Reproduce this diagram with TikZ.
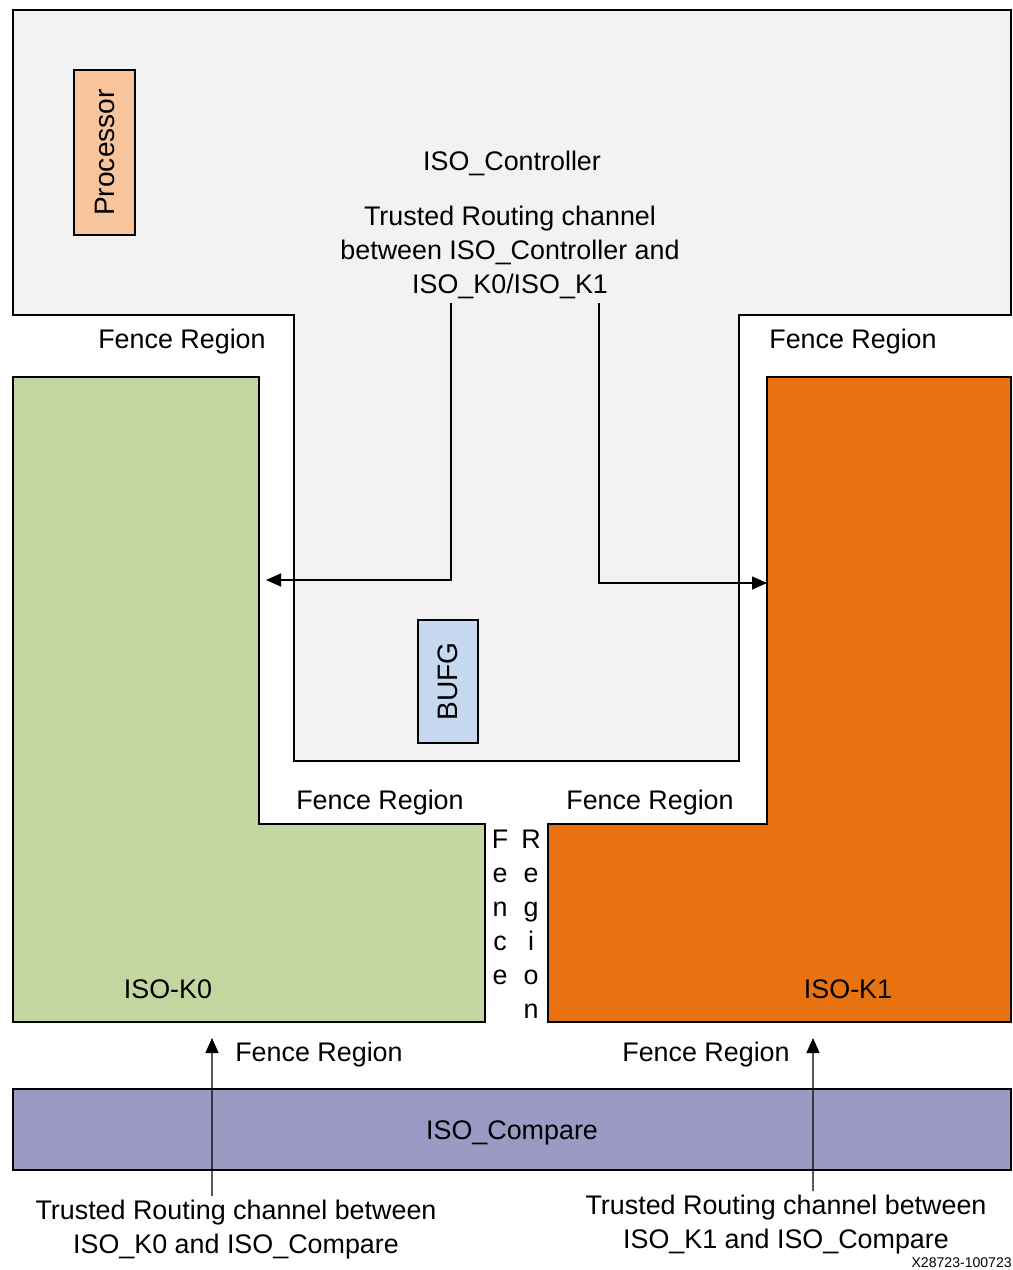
\documentclass[tikz,border=0pt]{standalone}
\usepackage{fontspec}
\setmainfont{Liberation Sans}
\usetikzlibrary{arrows.meta}

\definecolor{ctrlgray}{HTML}{F2F2F2}
\definecolor{procpeach}{HTML}{F8C49B}
\definecolor{bufgblue}{HTML}{C6D9F1}
\definecolor{kzerogreen}{HTML}{C4D6A0}
\definecolor{koneorange}{HTML}{E97210}
\definecolor{cmppurple}{HTML}{9B9AC4}

\begin{document}
\begin{tikzpicture}[x=0.02cm, y=-0.02cm,
                    font=\fontsize{15.3}{19.4}\selectfont,
                    region/.style={draw=black, line width=1.5pt},
                    block/.style={draw=black, line width=1.5pt, rotate=90, inner sep=0pt},
                    label/.style={align=center, inner sep=2pt, yshift=-0.05cm},
                    chan/.style={-{Triangle[length=3mm, width=2.6mm]}, line width=0.8pt}]

            \useasboundingbox (0,0) rectangle (1013,1270);

            % regions
            \draw[region, fill=ctrlgray] (13,10) -- (1011,10) -- (1011,315) -- (739,315) -- (739,761)
                -- (294,761) -- (294,315) -- (13,315) -- cycle;
            \draw[region, fill=kzerogreen] (13,377) -- (259,377) -- (259,824) -- (485,824)
                -- (485,1022) -- (13,1022) -- cycle;
            \draw[region, fill=koneorange] (767,377) -- (1011,377) -- (1011,1022) -- (548,1022)
                -- (548,824) -- (767,824) -- cycle;
            \draw[region, fill=cmppurple] (13,1089) rectangle (1011,1170);

            \node[block, fill=procpeach, minimum width=3.3cm, minimum height=1.22cm, font=\fontsize{16}{19}\selectfont] (proc) at (104.5,152.5) {Processor};
            \node[block, fill=bufgblue, minimum width=2.46cm, minimum height=1.2cm, font=\fontsize{16}{19}\selectfont] (bufg) at (448,681.5) {BUFG};

            \node[label] (ctrl) at (512,161) {ISO\_Controller};
            \node[label] (ctrlchan) at (510,250) {Trusted Routing channel\\between ISO\_Controller and\\ISO\_K0/ISO\_K1};

            \node[label] (fence1) at (182,339) {Fence Region};
            \node[label] (fence2) at (853,339) {Fence Region};
            \node[label] (fence3) at (380,800) {Fence Region};
            \node[label] (fence4) at (650,800) {Fence Region};
            \node[label] (fence5) at (319,1052) {Fence Region};
            \node[label] (fence6) at (706,1052) {Fence Region};
            \node[label] (fencev) at (500,905) {F\\e\\n\\c\\e};
            \node[label] (regionv) at (531,922) {R\\e\\g\\i\\o\\n};

            \node[label] (kzero) at (168,987) {ISO-K0};
            \node[label] (kone) at (848,987) {ISO-K1};
            \node[label] (cmp) at (512,1130) {ISO\_Compare};

            \node[label] (kzerochan) at (236,1227) {Trusted Routing channel between\\ISO\_K0 and ISO\_Compare};
            \node[label] (konechan) at (786,1222) {Trusted Routing channel between\\ISO\_K1 and ISO\_Compare};
            \node[anchor=east, inner sep=0pt, font=\fontsize{8}{9}\selectfont] (figid) at (1012,1263) {X28723-100723};

            % trusted routing channels
            \coordinate (kzeroin) at (266,580);
            \coordinate (konein) at (767,583);
            \coordinate (kzeroout) at (212,1038);
            \coordinate (koneout) at (813,1038);

            \draw[chan] ([xshift=-1.18cm]ctrlchan.south) |- (kzeroin);
            \draw[chan] ([xshift=1.78cm]ctrlchan.south) |- (konein);
            \draw[chan] ([xshift=-0.48cm]kzerochan.north) -- (kzeroout);
            \draw[chan] ([xshift=0.54cm]konechan.north) -- (koneout);
\end{tikzpicture}
\end{document}
